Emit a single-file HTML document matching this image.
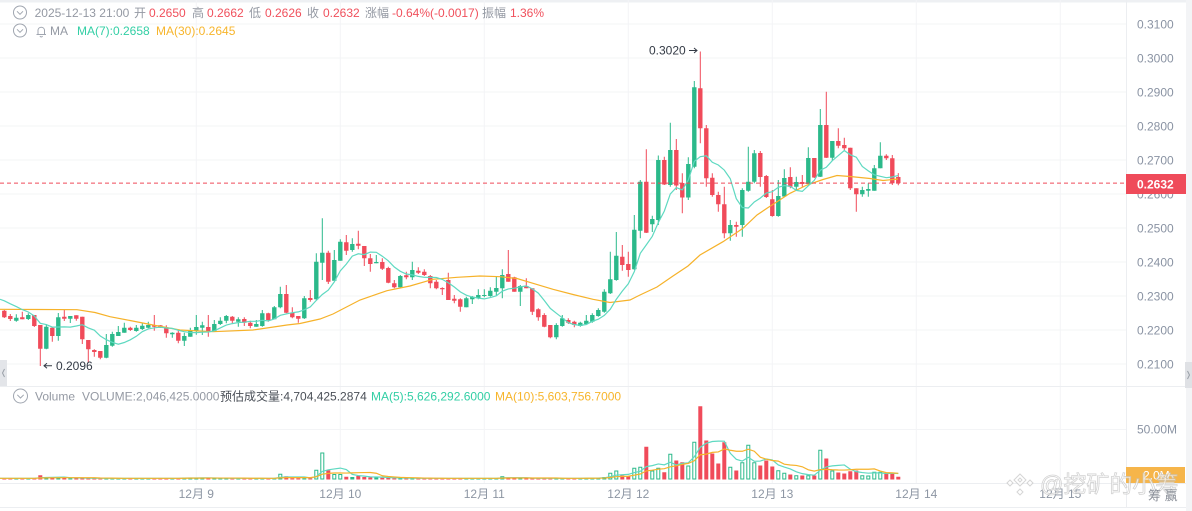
<!DOCTYPE html>
<html><head><meta charset="utf-8">
<style>
html,body{margin:0;padding:0;background:#fff;}
body{width:1192px;height:511px;overflow:hidden;}
svg{display:block;font-family:"Liberation Sans","Noto Sans CJK SC",sans-serif;}
</style></head><body>
<svg width="1192" height="511" viewBox="0 0 1192 511" xmlns="http://www.w3.org/2000/svg">
<rect x="0" y="0" width="1192" height="511" fill="#fff"/>
<rect x="0" y="0" width="1192" height="2.5" fill="#eef0f3"/>
<rect x="1186" y="0" width="6" height="511" fill="#f3f4f6"/>
<g stroke="#f3f4f6" stroke-width="1">
<line x1="0" y1="24" x2="1126" y2="24"/>
<line x1="0" y1="58" x2="1126" y2="58"/>
<line x1="0" y1="92" x2="1126" y2="92"/>
<line x1="0" y1="126" x2="1126" y2="126"/>
<line x1="0" y1="160" x2="1126" y2="160"/>
<line x1="0" y1="194" x2="1126" y2="194"/>
<line x1="0" y1="228" x2="1126" y2="228"/>
<line x1="0" y1="262" x2="1126" y2="262"/>
<line x1="0" y1="296" x2="1126" y2="296"/>
<line x1="0" y1="330" x2="1126" y2="330"/>
<line x1="0" y1="364" x2="1126" y2="364"/>
<line x1="0" y1="429.5" x2="1126" y2="429.5"/>
<line x1="196.3" y1="0" x2="196.3" y2="483"/>
<line x1="340.3" y1="0" x2="340.3" y2="483"/>
<line x1="484.3" y1="0" x2="484.3" y2="483"/>
<line x1="628.3" y1="0" x2="628.3" y2="483"/>
<line x1="772.3" y1="0" x2="772.3" y2="483"/>
<line x1="916.3" y1="0" x2="916.3" y2="483"/>
<line x1="1060.3" y1="0" x2="1060.3" y2="483"/>
</g>
<g stroke="#eceef1" stroke-width="1">
<line x1="0" y1="386.5" x2="1186" y2="386.5"/>
<line x1="0" y1="483.5" x2="1186" y2="483.5"/>
<line x1="0" y1="507.5" x2="1186" y2="507.5"/>
<line x1="1126.5" y1="0" x2="1126.5" y2="507"/>
</g>
<g font-size="12" fill="#8a93a3">
<text x="1137" y="28.3">0.3100</text>
<text x="1137" y="62.3">0.3000</text>
<text x="1137" y="96.3">0.2900</text>
<text x="1137" y="130.3">0.2800</text>
<text x="1137" y="164.3">0.2700</text>
<text x="1137" y="198.3">0.2600</text>
<text x="1137" y="232.3">0.2500</text>
<text x="1137" y="266.3">0.2400</text>
<text x="1137" y="300.3">0.2300</text>
<text x="1137" y="334.3">0.2200</text>
<text x="1137" y="368.3">0.2100</text>
<text x="1137" y="433.5">50.00M</text>
</g>
<g font-size="12" fill="#8d96a3" text-anchor="middle">
<text x="196.3" y="498">12月 9</text>
<text x="340.3" y="498">12月 10</text>
<text x="484.3" y="498">12月 11</text>
<text x="628.3" y="498">12月 12</text>
<text x="772.3" y="498">12月 13</text>
<text x="916.3" y="498">12月 14</text>
<text x="1060.3" y="498">12月 15</text>
</g>
<!-- green wicks -->
<path fill="none" stroke="#2bb98a" stroke-width="1" d="M16.3,314.3V321.7 M28.3,313.3V320 M46.3,324V349.3 M58.3,313V340.7 M70.3,316V323 M106.3,334V358.3 M112.3,331.7V346.7 M118.3,326V336 M124.3,322.7V332.7 M136.3,325V331.7 M142.3,322.7V330 M148.3,321.7V328.3 M172.3,332.3V337.7 M184.3,332.7V346 M190.3,327.7V336.7 M196.3,315V334.7 M202.3,321.7V335 M214.3,320V331.7 M220.3,317.3V325 M226.3,315V323.3 M238.3,317.3V326.7 M256.3,320V326.7 M262.3,310V326.7 M274.3,306V319.3 M280.3,286.7V308.3 M304.3,296V319 M316.3,253.3V300 M322.3,218.3V280 M334.3,250V280.7 M340.3,239.3V260.7 M352.3,238.3V251.7 M376.3,255V263.3 M400.3,275V288.3 M412.3,261.7V280 M466.3,296.7V307.3 M472.3,296V304 M478.3,289.3V299.3 M484.3,289.3V297.3 M490.3,287.3V296.7 M496.3,276V296 M502.3,269.3V298.3 M520.3,285V306 M556.3,323.3V339.3 M562.3,315V326.7 M580.3,321.7V326.7 M586.3,315V325 M592.3,313.3V322.7 M598.3,308.3V316.7 M604.3,289.3V312.7 M610.3,251.7V294 M616.3,232V280.7 M634.3,215V270 M640.3,180V238.3 M652.3,215.7V232 M658.3,155.5V225 M670.3,122.7V186.7 M688.3,157.3V200 M694.3,81V168.3 M730.3,220V240.7 M742.3,188.3V236.7 M748.3,146.7V191.7 M754.3,150V183.3 M778.3,180V216.7 M784.3,169.3V196.7 M796.3,176.7V190 M808.3,147.3V184 M820.3,109V177 M832.3,141V161 M862.3,186.7V196.7 M868.3,183.3V196.7 M874.3,165V190.7 M880.3,142.3V168.3"/>
<!-- red wicks -->
<path fill="none" stroke="#f04b5a" stroke-width="1" d="M4.3,310V318 M10.3,314V321 M22.3,311.7V319.3 M34.3,315V327 M40.3,325V366 M52.3,326.7V341.7 M64.3,310V321 M76.3,315.3V320.7 M82.3,316.7V344 M88.3,340V362.7 M94.3,349.3V356.7 M100.3,351V359.3 M130.3,326.7V331 M154.3,315V330.7 M160.3,325V328 M166.3,325.3V337.7 M178.3,330V343.3 M208.3,315V336.7 M232.3,316V323.3 M244.3,317.3V326 M250.3,320.7V328.3 M268.3,312.7V321.7 M286.3,285V313.3 M292.3,307.3V318.3 M298.3,316V322.7 M310.3,290V301.7 M328.3,250.7V284 M346.3,235V255 M358.3,230.7V249.3 M364.3,246V266 M370.3,254V271.7 M382.3,258.3V270 M388.3,266.7V283.3 M394.3,280V288.3 M406.3,271.7V279.3 M418.3,267.3V274 M424.3,269.3V276 M430.3,275V288.3 M436.3,280V289.3 M442.3,287.3V295 M448.3,272.7V300 M454.3,295V303.3 M460.3,298.3V311.7 M508.3,250V281.7 M514.3,276.7V291.7 M526.3,278.3V288.3 M532.3,288.3V315 M538.3,308.3V320.7 M544.3,313.3V327.3 M550.3,325V338.3 M568.3,318.3V324 M574.3,320.7V327.3 M622.3,245V270.7 M628.3,251.7V276.7 M646.3,149.3V233 M664.3,156.7V185 M676.3,139V190 M682.3,173.3V213.3 M700.3,51.5V143.3 M706.3,125V186.7 M712.3,173.3V196.7 M718.3,191.7V211.7 M724.3,186.7V238.3 M736.3,221.7V236.7 M760.3,151V186.7 M766.3,175V198 M772.3,190V216.7 M790.3,167.3V188.3 M802.3,175V186.7 M814.3,158V178 M826.3,91.7V158 M838.3,128.3V148.3 M844.3,137.7V150 M850.3,147.7V190 M856.3,188.3V211.7 M886.3,154.3V160 M892.3,155V185 M898.3,173.1V185.2"/>
<!-- green bodies -->
<path fill="#2bb98a" d="M14.1,317.7h4.4v3h-4.4z M26.1,315h4.4v4h-4.4z M44.1,326.7h4.4v22h-4.4z M56.1,317.3h4.4v18.7h-4.4z M68.1,316h4.4v2.7h-4.4z M104.1,345h4.4v12.7h-4.4z M110.1,334h4.4v11.7h-4.4z M116.1,332h4.4v4h-4.4z M122.1,327.7h4.4v5h-4.4z M134.1,327.7h4.4v3.3h-4.4z M140.1,325.7h4.4v3.3h-4.4z M146.1,325h4.4v2.7h-4.4z M170.1,332.7h4.4v1.6h-4.4z M182.1,336h4.4v4.7h-4.4z M188.1,330.7h4.4v6h-4.4z M194.1,327h4.4v4h-4.4z M200.1,325.3h4.4v2.4h-4.4z M212.1,324h4.4v7.7h-4.4z M218.1,320.7h4.4v3.3h-4.4z M224.1,316h4.4v4.7h-4.4z M236.1,319.3h4.4v2.4h-4.4z M254.1,324h4.4v2.7h-4.4z M260.1,313.3h4.4v12.7h-4.4z M272.1,307.3h4.4v12h-4.4z M278.1,294h4.4v13.3h-4.4z M302.1,298.3h4.4v20h-4.4z M314.1,261.7h4.4v37.6h-4.4z M320.1,252.7h4.4v10h-4.4z M332.1,260h4.4v20.7h-4.4z M338.1,241.7h4.4v19h-4.4z M350.1,244h4.4v6h-4.4z M374.1,262h4.4v1.3h-4.4z M398.1,276h4.4v11.3h-4.4z M410.1,270h4.4v7.3h-4.4z M464.1,298.3h4.4v9h-4.4z M470.1,296.7h4.4v2.6h-4.4z M476.1,295h4.4v3.3h-4.4z M482.1,295h4.4v1h-4.4z M488.1,290.7h4.4v5.3h-4.4z M494.1,288h4.4v3.7h-4.4z M500.1,275h4.4v13.3h-4.4z M518.1,286h4.4v5.7h-4.4z M554.1,325h4.4v12.3h-4.4z M560.1,318.3h4.4v7.7h-4.4z M578.1,322.7h4.4v3.3h-4.4z M584.1,320.7h4.4v3.3h-4.4z M590.1,315h4.4v6.7h-4.4z M596.1,310h4.4v6h-4.4z M602.1,291.7h4.4v20h-4.4z M608.1,279.3h4.4v14h-4.4z M614.1,255.7h4.4v24.3h-4.4z M632.1,229.7h4.4v39.6h-4.4z M638.1,181.7h4.4v49h-4.4z M650.1,219h4.4v5.3h-4.4z M656.1,160h4.4v60h-4.4z M668.1,150h4.4v35h-4.4z M686.1,164h4.4v33.5h-4.4z M692.1,87.3h4.4v79.4h-4.4z M728.1,225h4.4v8.3h-4.4z M740.1,190h4.4v35h-4.4z M746.1,181.7h4.4v9h-4.4z M752.1,153.3h4.4v28.4h-4.4z M776.1,196h4.4v20h-4.4z M782.1,178h4.4v18.5h-4.4z M794.1,182h4.4v4.7h-4.4z M806.1,158h4.4v26h-4.4z M818.1,125h4.4v51.7h-4.4z M830.1,141h4.4v16.7h-4.4z M860.1,190h4.4v4.3h-4.4z M866.1,189h4.4v1.7h-4.4z M872.1,168.3h4.4v22.4h-4.4z M878.1,155.7h4.4v12.6h-4.4z"/>
<!-- red bodies -->
<path fill="#f04b5a" d="M2.1,310.7h4.4v6.6h-4.4z M8.1,316h4.4v3h-4.4z M20.1,317.3h4.4v2h-4.4z M32.1,315h4.4v11h-4.4z M38.1,325h4.4v23.7h-4.4z M50.1,327.7h4.4v8.3h-4.4z M62.1,316.7h4.4v2h-4.4z M74.1,315.3h4.4v3.4h-4.4z M80.1,316.7h4.4v22.6h-4.4z M86.1,340h4.4v9.3h-4.4z M92.1,350h4.4v2h-4.4z M98.1,351h4.4v6.7h-4.4z M128.1,327.7h4.4v2.3h-4.4z M152.1,325.3h4.4v1.4h-4.4z M158.1,325.3h4.4v2.4h-4.4z M164.1,327.7h4.4v5.6h-4.4z M176.1,332.7h4.4v8h-4.4z M206.1,327h4.4v4.7h-4.4z M230.1,316.7h4.4v4h-4.4z M242.1,319h4.4v3.7h-4.4z M248.1,322.7h4.4v3.3h-4.4z M266.1,313.3h4.4v6.7h-4.4z M284.1,294h4.4v18.7h-4.4z M290.1,312.7h4.4v4.6h-4.4z M296.1,316h4.4v2.7h-4.4z M308.1,298h4.4v2h-4.4z M326.1,252.7h4.4v29h-4.4z M344.1,242.3h4.4v8.4h-4.4z M356.1,243.7h4.4v2h-4.4z M362.1,246h4.4v12.3h-4.4z M368.1,258.3h4.4v5.7h-4.4z M380.1,262h4.4v6.7h-4.4z M386.1,268h4.4v14.7h-4.4z M392.1,283.3h4.4v4h-4.4z M404.1,275.3h4.4v2h-4.4z M416.1,270.7h4.4v2h-4.4z M422.1,271.7h4.4v3.3h-4.4z M428.1,276h4.4v7.3h-4.4z M434.1,281.7h4.4v6.6h-4.4z M440.1,288h4.4v1.3h-4.4z M446.1,280h4.4v20h-4.4z M452.1,298.7h4.4v2h-4.4z M458.1,299.3h4.4v7.4h-4.4z M506.1,274h4.4v7.7h-4.4z M512.1,277.3h4.4v14.4h-4.4z M524.1,286h4.4v2.3h-4.4z M530.1,288.3h4.4v23.4h-4.4z M536.1,309.3h4.4v8h-4.4z M542.1,315h4.4v11.7h-4.4z M548.1,325h4.4v12.3h-4.4z M566.1,320h4.4v2.7h-4.4z M572.1,321.7h4.4v3.3h-4.4z M620.1,256.7h4.4v8.3h-4.4z M626.1,264h4.4v6h-4.4z M644.1,181.7h4.4v51h-4.4z M662.1,160h4.4v24.5h-4.4z M674.1,150h4.4v35.5h-4.4z M680.1,183h4.4v14.5h-4.4z M698.1,88.3h4.4v40h-4.4z M704.1,128.3h4.4v50h-4.4z M710.1,177.7h4.4v17.3h-4.4z M716.1,195h4.4v9.3h-4.4z M722.1,204.3h4.4v29h-4.4z M734.1,225h4.4v1.7h-4.4z M758.1,153h4.4v24h-4.4z M764.1,176h4.4v21h-4.4z M770.1,199.3h4.4v16.7h-4.4z M788.1,177h4.4v9.7h-4.4z M800.1,182h4.4v2h-4.4z M812.1,158h4.4v19.5h-4.4z M824.1,125h4.4v32.7h-4.4z M836.1,141h4.4v4.7h-4.4z M842.1,145h4.4v3.3h-4.4z M848.1,147.7h4.4v40.6h-4.4z M854.1,188.3h4.4v6h-4.4z M884.1,155.7h4.4v2.6h-4.4z M890.1,158.3h4.4v25h-4.4z M896.1,177h4.4v6.1h-4.4z"/>
<!-- MA30 -->
<polyline fill="none" stroke="#f6b22a" stroke-width="1.2" points="0,309.3 40,309.5 77,309.7 95,312.5 110,316.7 130,320.5 153,325 180,330 213,331.7 253,330 287,325 300,323.5 320,319 333,314 360,300 387,290.7 410,286 433,279.3 457,277.3 480,276 500,276.7 517,278.5 533,283.3 553,289.3 573,294.5 593,299.3 610,302.5 630,300 640,295 657,287 673,276 688,266 700,255 723,241.7 743,228.3 757,215 767,208.3 777,201.7 790,193.3 807,185 823,179.5 837,175.5 850,176.5 870,178.5 883,180.5 898,179"/>
<!-- MA7 -->
<polyline fill="none" stroke="#5fd9c1" stroke-width="1.2" points="0,299.3 4.3,300.8 10.3,303.8 16.3,306.6 22.3,309.6 28.3,312 34.3,316 40.3,323.3 46.3,324.6 52.3,327.1 58.3,327 64.3,326.9 70.3,327.1 76.3,326 82.3,324.7 88.3,327.9 94.3,330.2 100.3,336 106.3,339.7 112.3,342.3 118.3,344.2 124.3,342.5 130.3,339.8 136.3,336.3 142.3,331.7 148.3,328.9 154.3,327.8 160.3,327.2 166.3,328 172.3,328.4 178.3,330.3 184.3,331.7 190.3,332.5 196.3,332.6 202.3,332.2 208.3,332 214.3,330.8 220.3,327.9 226.3,325.1 232.3,323.6 238.3,322.5 244.3,322.2 250.3,321.3 256.3,321.3 262.3,320.3 268.3,320.9 274.3,318.9 280.3,315.3 286.3,313.9 292.3,312.7 298.3,311.9 304.3,309.8 310.3,306.9 316.3,300.4 322.3,294.5 328.3,290.1 334.3,281.9 340.3,270.9 346.3,264.1 352.3,256.1 358.3,253.8 364.3,254.6 370.3,252.1 376.3,252.3 382.3,256.2 388.3,260.8 394.3,267 400.3,271.3 406.3,274 412.3,274.9 418.3,276.4 424.3,277.3 430.3,277.4 436.3,277.5 442.3,279.4 448.3,282.7 454.3,287 460.3,291.9 466.3,295.2 472.3,297.1 478.3,298.1 484.3,298.9 490.3,297.6 496.3,295.8 502.3,291.2 508.3,288.9 514.3,288.2 520.3,286.9 526.3,285.9 532.3,288.9 538.3,293.1 544.3,300.5 550.3,308.4 556.3,313.2 562.3,317.8 568.3,322.7 574.3,324.6 580.3,325.4 586.3,324.5 592.3,321.3 598.3,319.2 604.3,315.4 610.3,309.2 616.3,299.3 622.3,291.1 628.3,283.8 634.3,271.6 640.3,253.3 646.3,244.9 652.3,236.3 658.3,222.6 664.3,211.1 670.3,193.9 676.3,187.6 682.3,189.9 688.3,180.1 694.3,161.3 700.3,156.7 706.3,155.8 712.3,162.3 718.3,165 724.3,170.1 730.3,178.8 736.3,198.7 742.3,207.5 748.3,208 754.3,202 760.3,198.1 766.3,193 772.3,191.7 778.3,187.3 784.3,185.6 790.3,186.3 796.3,190.4 802.3,191.4 808.3,185.8 814.3,180.3 820.3,170.2 826.3,167.3 832.3,160.7 838.3,155.6 844.3,150.5 850.3,154.8 856.3,157.2 862.3,166.5 868.3,170.9 874.3,174.8 880.3,176.3 886.3,177.7 892.3,177 898.3,175.4"/>
<!-- volume: red -->
<path fill="#f04b5a" d="M2.3,478.3h4v1.2h-4z M8.3,478.3h4v1.2h-4z M20.3,478.3h4v1.2h-4z M32.3,478.3h4v1.2h-4z M38.3,475.2h4v4.3h-4z M50.3,477.5h4v2h-4z M62.3,477.7h4v1.8h-4z M74.3,478.3h4v1.2h-4z M80.3,478.3h4v1.2h-4z M86.3,478.3h4v1.2h-4z M92.3,478.3h4v1.2h-4z M98.3,478.3h4v1.2h-4z M128.3,478.3h4v1.2h-4z M152.3,478.3h4v1.2h-4z M158.3,478.3h4v1.2h-4z M164.3,478.3h4v1.2h-4z M176.3,478.3h4v1.2h-4z M206.3,477.9h4v1.6h-4z M230.3,478.3h4v1.2h-4z M242.3,478.3h4v1.2h-4z M248.3,478.3h4v1.2h-4z M266.3,478.3h4v1.2h-4z M284.3,476.3h4v3.2h-4z M290.3,478.3h4v1.2h-4z M296.3,478.3h4v1.2h-4z M308.3,478.3h4v1.2h-4z M326.3,470.3h4v9.2h-4z M344.3,476.7h4v2.8h-4z M356.3,476h4v3.5h-4z M362.3,477h4v2.5h-4z M368.3,477.5h4v2h-4z M380.3,477.8h4v1.7h-4z M386.3,477.8h4v1.7h-4z M392.3,478.3h4v1.2h-4z M404.3,478.3h4v1.2h-4z M416.3,478.3h4v1.2h-4z M422.3,478.3h4v1.2h-4z M428.3,478.3h4v1.2h-4z M434.3,478.3h4v1.2h-4z M440.3,478.3h4v1.2h-4z M446.3,478.3h4v1.2h-4z M452.3,478.3h4v1.2h-4z M458.3,478.3h4v1.2h-4z M506.3,477.5h4v2h-4z M512.3,478.3h4v1.2h-4z M524.3,478.3h4v1.2h-4z M530.3,478.3h4v1.2h-4z M536.3,478.3h4v1.2h-4z M542.3,478.3h4v1.2h-4z M548.3,478.3h4v1.2h-4z M566.3,478.3h4v1.2h-4z M572.3,478.3h4v1.2h-4z M620.3,475.5h4v4h-4z M626.3,476.2h4v3.3h-4z M644.3,446.8h4v32.7h-4z M662.3,472.2h4v7.3h-4z M674.3,460.5h4v19h-4z M680.3,462.2h4v17.3h-4z M698.3,406.2h4v73.3h-4z M704.3,440.5h4v39h-4z M710.3,453.5h4v26h-4z M716.3,463.5h4v16h-4z M722.3,442.2h4v37.3h-4z M734.3,470.5h4v9h-4z M758.3,465.5h4v14h-4z M764.3,460.5h4v19h-4z M770.3,466.5h4v13h-4z M788.3,474.5h4v5h-4z M800.3,475.5h4v4h-4z M812.3,475.5h4v4h-4z M824.3,458.5h4v21h-4z M836.3,472.5h4v7h-4z M842.3,473.5h4v6h-4z M848.3,471.2h4v8.3h-4z M854.3,470.5h4v9h-4z M884.3,473.5h4v6h-4z M890.3,473.5h4v6h-4z M896.3,476.8h4v2.7h-4z"/>
<!-- volume: green small solid -->
<path fill="#2bb98a" d="M14.3,478.3h4v1.2h-4z M26.3,478.3h4v1.2h-4z M44.3,477.5h4v2h-4z M56.3,477.5h4v2h-4z M68.3,478.3h4v1.2h-4z M104.3,478.3h4v1.2h-4z M110.3,478.3h4v1.2h-4z M116.3,478.3h4v1.2h-4z M122.3,478.3h4v1.2h-4z M134.3,478.3h4v1.2h-4z M140.3,478.3h4v1.2h-4z M146.3,478.3h4v1.2h-4z M170.3,478.3h4v1.2h-4z M182.3,477.5h4v2h-4z M188.3,477.5h4v2h-4z M194.3,478.3h4v1.2h-4z M200.3,477.9h4v1.6h-4z M212.3,478.3h4v1.2h-4z M218.3,478.3h4v1.2h-4z M224.3,478.3h4v1.2h-4z M236.3,478.3h4v1.2h-4z M254.3,478.3h4v1.2h-4z M260.3,478.3h4v1.2h-4z M272.3,478.3h4v1.2h-4z M302.3,478.3h4v1.2h-4z M350.3,477h4v2.5h-4z M374.3,477.5h4v2h-4z M398.3,478.3h4v1.2h-4z M410.3,478.3h4v1.2h-4z M464.3,478.3h4v1.2h-4z M470.3,478.3h4v1.2h-4z M476.3,478.3h4v1.2h-4z M482.3,478.3h4v1.2h-4z M488.3,478.3h4v1.2h-4z M494.3,478.3h4v1.2h-4z M518.3,478.3h4v1.2h-4z M554.3,478.3h4v1.2h-4z M560.3,478.3h4v1.2h-4z M578.3,478.3h4v1.2h-4z M584.3,478h4v1.5h-4z M590.3,477.8h4v1.7h-4z M596.3,477.8h4v1.7h-4z M602.3,477h4v2.5h-4z"/>
<!-- volume: green hollow -->
<path fill="#fff" stroke="#2bb98a" stroke-width="1" d="M278.8,474.2h3v4.8h-3z M314.8,470.2h3v8.8h-3z M320.8,453h3v26h-3z M332.8,474.5h3v4.5h-3z M338.8,474.5h3v4.5h-3z M500.8,476.8h3v2.2h-3z M608.8,473.3h3v5.7h-3z M614.8,471h3v8h-3z M632.8,468.3h3v10.7h-3z M638.8,467.3h3v11.7h-3z M650.8,471h3v8h-3z M656.8,468.3h3v10.7h-3z M668.8,454.3h3v24.7h-3z M686.8,466h3v13h-3z M692.8,442.3h3v36.7h-3z M728.8,467.3h3v11.7h-3z M740.8,462.7h3v16.3h-3z M746.8,445.3h3v33.7h-3z M752.8,462.7h3v16.3h-3z M776.8,470.7h3v8.3h-3z M782.8,473.3h3v5.7h-3z M794.8,475.7h3v3.3h-3z M806.8,475.7h3v3.3h-3z M818.8,450.3h3v28.7h-3z M830.8,471h3v8h-3z M860.8,475.7h3v3.3h-3z M866.8,476h3v3h-3z M872.8,472.3h3v6.7h-3z M878.8,472.3h3v6.7h-3z"/>
<!-- volume MA5 -->
<polyline fill="none" stroke="#5fd9c1" stroke-width="1.2" points="0,478.3 34.3,478.3 40.3,477.68 46.3,477.52 52.3,477.36 58.3,477.2 64.3,477.08 70.3,477.7 76.3,477.86 82.3,478.02 88.3,478.18 94.3,478.3 178.3,478.3 184.3,478.14 190.3,477.98 196.3,477.98 202.3,477.9 208.3,477.82 214.3,477.98 220.3,478.14 226.3,478.14 232.3,478.22 238.3,478.3 274.3,478.3 280.3,477.38 286.3,476.98 304.3,476.98 310.3,477.9 316.3,476.58 322.3,471.42 328.3,469.82 334.3,468.96 340.3,468.1 346.3,469.5 352.3,474.4 358.3,475.54 364.3,476.14 370.3,476.84 376.3,477 382.3,477.16 388.3,477.52 394.3,477.78 400.3,477.94 406.3,478.1 412.3,478.2 418.3,478.3 496.3,478.3 502.3,477.9 508.3,477.74 526.3,477.74 532.3,478.14 538.3,478.3 580.3,478.3 586.3,478.24 592.3,478.14 598.3,478.04 604.3,477.78 610.3,476.68 616.3,475.18 622.3,474.72 628.3,474.4 634.3,472.56 640.3,471.36 646.3,466.62 652.3,465.62 658.3,463.94 664.3,464.82 670.3,462.22 676.3,464.96 682.3,463.3 688.3,462.84 694.3,456.76 700.3,447.24 706.3,443.24 712.3,441.5 718.3,441.1 724.3,441.18 730.3,453.3 736.3,459.3 742.3,461.04 748.3,457.3 754.3,461.3 760.3,461.04 766.3,459.04 772.3,459.9 778.3,464.98 784.3,467.1 790.3,468.9 796.3,471.84 802.3,473.64 808.3,474.64 814.3,475.18 820.3,470.24 826.3,466.9 832.3,465.9 838.3,465.36 844.3,464.96 850.3,469.24 856.3,471.64 862.3,472.58 868.3,473.18 874.3,472.84 880.3,472.96 886.3,473.56 892.3,473.22 898.3,473.48"/>
<!-- volume MA10 -->
<polyline fill="none" stroke="#f6b22a" stroke-width="1.2" points="0,478.3 34.3,478.3 40.3,477.99 46.3,477.91 52.3,477.83 58.3,477.75 64.3,477.69 94.3,477.69 100.3,478 106.3,478.08 112.3,478.16 118.3,478.24 124.3,478.3 178.3,478.3 184.3,478.22 190.3,478.14 196.3,478.14 202.3,478.1 208.3,478.06 238.3,478.06 244.3,478.14 250.3,478.22 256.3,478.22 262.3,478.26 268.3,478.3 274.3,478.3 280.3,477.84 286.3,477.64 310.3,477.64 316.3,476.78 322.3,474.2 328.3,473.4 334.3,472.97 340.3,473 346.3,473.04 352.3,472.91 358.3,472.68 364.3,472.55 370.3,472.47 376.3,473.25 382.3,475.78 388.3,476.53 394.3,476.96 400.3,477.39 406.3,477.55 412.3,477.68 418.3,477.91 424.3,478.04 430.3,478.12 436.3,478.2 442.3,478.25 448.3,478.3 496.3,478.3 502.3,478.1 508.3,478.02 556.3,478.02 562.3,478.22 568.3,478.3 580.3,478.3 586.3,478.27 592.3,478.22 598.3,478.17 604.3,478.04 610.3,477.49 616.3,476.71 622.3,476.43 628.3,476.22 634.3,475.17 640.3,474.02 646.3,470.9 652.3,470.17 658.3,469.17 664.3,468.69 670.3,466.79 676.3,465.79 682.3,464.46 688.3,463.39 694.3,460.79 700.3,454.73 706.3,454.1 712.3,452.4 718.3,451.97 724.3,448.97 730.3,450.27 736.3,451.27 742.3,451.27 748.3,449.2 754.3,451.24 760.3,457.17 766.3,459.17 772.3,460.47 778.3,461.14 784.3,464.2 790.3,464.97 796.3,465.44 802.3,466.77 808.3,469.81 814.3,471.14 820.3,469.57 826.3,469.37 832.3,469.77 838.3,470 844.3,470.07 850.3,469.74 856.3,469.27 862.3,469.24 868.3,469.27 874.3,468.9 880.3,471.1 886.3,472.6 892.3,472.9 898.3,473.33"/>
<!-- current price dashed line -->
<line x1="0" y1="183.1" x2="1126" y2="183.1" stroke="#ef4b5a" stroke-width="1" stroke-dasharray="4,3"/>
<rect x="1126" y="174" width="60" height="20" fill="#ef4b5a"/>
<text x="1137" y="188.5" font-size="12" font-weight="bold" fill="#fff">0.2632</text>
<rect x="1126" y="467" width="59" height="16" fill="#f6b54a"/>
<text x="1143" y="479.5" font-size="12" fill="#fff">2.0M</text>
<!-- annotations -->
<text x="649" y="54.3" font-size="12" fill="#333a45">0.3020</text>
<path d="M689,50.5 H697 M694,48 L697,50.5 L694,53" stroke="#333a45" stroke-width="1" fill="none"/>
<path d="M44,365.7 H52 M47,363.2 L44,365.7 L47,368.2" stroke="#333a45" stroke-width="1" fill="none"/>
<text x="56" y="370" font-size="12" fill="#333a45">0.2096</text>
<!-- header row 1 -->
<circle cx="20" cy="12.5" r="6.5" fill="none" stroke="#a0a6b0" stroke-width="1"/>
<path d="M17,11.3 L20,14.3 L23,11.3" fill="none" stroke="#a0a6b0" stroke-width="1"/>
<g font-size="12">
<text x="34.6" y="17" fill="#9499a3">2025-12-13 21:00</text>
<text x="134" y="17" fill="#9499a3">开</text>
<text x="149" y="17" fill="#f0505c">0.2650</text>
<text x="192" y="17" fill="#9499a3">高</text>
<text x="207" y="17" fill="#f0505c">0.2662</text>
<text x="249" y="17" fill="#9499a3">低</text>
<text x="265" y="17" fill="#f0505c">0.2626</text>
<text x="307" y="17" fill="#9499a3">收</text>
<text x="323" y="17" fill="#f0505c">0.2632</text>
<text x="365" y="17" fill="#9499a3">涨幅</text>
<text x="392" y="17" fill="#f0505c">-0.64%(-0.0017)</text>
<text x="482" y="17" fill="#9499a3">振幅</text>
<text x="510" y="17" fill="#f0505c">1.36%</text>
</g>
<!-- header row 2 -->
<circle cx="20" cy="30.5" r="6.5" fill="none" stroke="#a0a6b0" stroke-width="1"/>
<path d="M17,29.3 L20,32.3 L23,29.3" fill="none" stroke="#a0a6b0" stroke-width="1"/>
<path d="M36.5,34.5 H46 M38,34.5 V30 A3.3,3.3 0 0 1 44.5,30 V34.5 M40,36 A1.3,1.3 0 0 0 42.5,36" fill="none" stroke="#a0a6b0" stroke-width="1"/>
<g font-size="12">
<text x="50" y="35" fill="#9499a3">MA</text>
<text x="77" y="35" fill="#33cfa5">MA(7):0.2658</text>
<text x="156" y="35" fill="#f7b52c">MA(30):0.2645</text>
</g>
<!-- volume header -->
<circle cx="20.5" cy="396" r="7" fill="none" stroke="#a0a6b0" stroke-width="1"/>
<path d="M17.3,394.8 L20.5,398 L23.7,394.8" fill="none" stroke="#a0a6b0" stroke-width="1"/>
<g font-size="12">
<text x="35" y="400.3" fill="#9499a3">Volume</text>
<text x="82" y="400.3" fill="#9499a3">VOLUME:2,046,425.0000</text>
<text x="220" y="400.3" fill="#4a4f57">预估成交量:4,704,425.2874</text>
<text x="371" y="400.3" fill="#33cfa5">MA(5):5,626,292.6000</text>
<text x="495" y="400.3" fill="#f7b52c">MA(10):5,603,756.7000</text>
</g>
<!-- side tabs -->
<rect x="0" y="360" width="7" height="26" fill="#e3e5e9"/>
<path d="M4.5,369 L2.5,373 L4.5,377" fill="none" stroke="#9aa0a8" stroke-width="1"/>
<rect x="1185" y="362" width="7" height="26" fill="#dfe1e5"/>
<path d="M1187.5,371 L1189.5,375 L1187.5,379" fill="none" stroke="#9aa0a8" stroke-width="1"/>
<!-- watermark -->
<g opacity="0.75">
<path d="M1020,474 l6,6 l-6,6 l-6,-6 z M1020,478 l2,2 l-2,2 l-2,-2 z M1010,480 l3,3 l-3,3 l-3,-3 z M1030,480 l3,3 l-3,3 l-3,-3 z M1020,489 l3,3 l-3,3 l-3,-3 z" fill="#fff" stroke="#c8c8c8" stroke-width="1"/>
<text x="1040" y="492" font-size="23" fill="#ffffff" stroke="#c4c4c4" stroke-width="0.8">@挖矿的小筹</text>
</g>
<text x="1148" y="500" font-size="13" fill="#8a8f98">筹 赢</text>
</svg>
</body></html>
